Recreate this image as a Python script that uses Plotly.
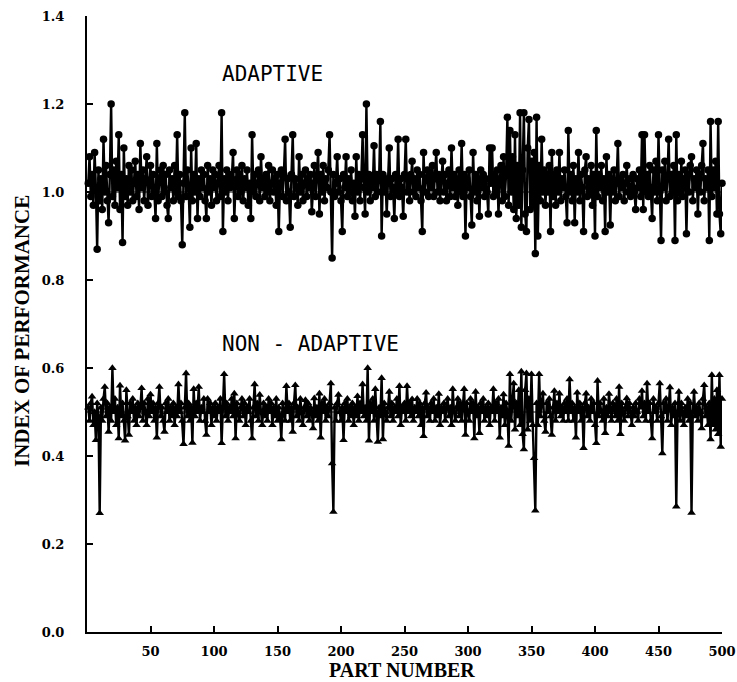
import plotly.graph_objects as go

# Part numbers 1..500
parts = list(range(1, 501))

# Index of performance, adaptive control (10 per row)
adaptive = [
    1.02, 1.08, 0.99, 1.04, 0.97, 1.09, 1.01, 0.87, 1.05, 0.98,
    1.03, 0.96, 1.12, 1.00, 1.06, 0.98, 0.93, 1.04, 1.20, 0.99,
    1.05, 0.97, 1.07, 1.01, 1.13, 0.96, 1.04, 0.885, 1.10, 0.99,
    1.03, 0.97, 1.06, 1.00, 1.05, 0.98, 1.02, 1.07, 0.99, 1.04,
    0.96, 1.11, 1.01, 1.05, 0.98, 1.03, 1.08, 0.97, 1.02, 1.06,
    0.99, 1.04, 1.00, 0.94, 1.11, 0.98, 1.03, 1.05, 0.99, 1.06,
    1.00, 1.04, 0.97, 0.94, 1.05, 1.01, 1.03, 0.98, 1.06, 1.00,
    1.13, 0.99, 1.04, 0.98, 0.88, 1.02, 1.18, 0.99, 1.05, 1.01,
    0.92, 1.10, 0.98, 1.04, 1.00, 1.11, 0.94, 1.03, 0.99, 1.05,
    1.01, 1.04, 0.98, 0.94, 1.06, 1.00, 1.03, 0.97, 1.05, 1.01,
    1.04, 0.98, 1.02, 1.06, 0.99, 1.18, 0.91, 1.03, 1.00, 1.05,
    0.98, 1.04, 1.01, 1.03, 1.09, 0.94, 1.02, 1.05, 0.99, 1.04,
    1.00, 1.06, 0.98, 1.03, 1.01, 1.05, 0.97, 1.02, 0.94, 1.13,
    1.00, 1.04, 0.99, 1.02, 1.05, 0.98, 1.08, 1.01, 1.03, 0.99,
    1.04, 1.00, 1.06, 0.98, 1.02, 1.05, 1.00, 1.03, 0.97, 1.04,
    0.91, 1.02, 1.05, 0.99, 1.04, 1.12, 0.98, 1.03, 1.00, 0.92,
    1.04, 1.13, 0.99, 1.03, 1.01, 0.97, 1.08, 1.00, 1.04, 0.98,
    1.02, 1.05, 0.99, 1.03, 1.01, 1.04, 0.955, 1.02, 1.06, 0.99,
    1.03, 1.09, 0.95, 1.04, 1.00, 1.06, 0.98, 1.03, 1.01, 1.05,
    1.13, 1.00, 0.85, 1.04, 0.99, 1.02, 1.08, 1.00, 1.03, 0.98,
    0.91, 1.04, 1.01, 1.08, 0.99, 1.03, 1.00, 1.05, 0.98, 1.02,
    0.945, 1.08, 1.00, 1.04, 0.98, 1.03, 1.13, 1.01, 0.95, 1.20,
    1.00, 1.04, 0.98, 1.03, 1.01, 1.105, 0.99, 1.04, 1.00, 1.03,
    1.16, 0.90, 1.04, 1.00, 1.03, 0.95, 1.02, 1.10, 0.99, 1.03,
    1.01, 0.94, 1.04, 1.00, 1.12, 0.99, 1.03, 1.01, 0.945, 1.04,
    1.12, 1.00, 1.03, 0.98, 1.04, 1.07, 1.00, 1.03, 0.99, 1.05,
    1.01, 1.04, 0.98, 0.91, 1.09, 1.00, 1.03, 1.05, 0.99, 1.04,
    1.01, 1.06, 0.99, 1.03, 1.09, 1.00, 1.04, 0.98, 1.03, 1.07,
    1.00, 1.04, 0.98, 1.02, 1.05, 0.99, 1.10, 1.01, 1.04, 0.99,
    1.03, 0.97, 1.05, 1.00, 1.11, 0.99, 1.04, 0.90, 1.03, 1.01,
    1.05, 0.99, 0.925, 1.09, 1.00, 1.04, 0.98, 1.03, 0.945, 1.05,
    1.01, 1.04, 0.99, 1.03, 1.00, 0.95, 1.10, 1.02, 1.10, 0.99,
    1.04, 1.00, 1.05, 0.95, 1.03, 1.06, 0.98, 1.08, 0.99, 1.04,
    1.17, 0.97, 1.14, 1.00, 1.08, 0.96, 1.13, 0.94, 1.06, 0.97,
    1.18, 0.92, 1.05, 1.18, 0.95, 0.91, 1.10, 1.165, 0.96, 1.07,
    0.97, 1.09, 0.86, 1.17, 0.90, 1.06, 0.98, 1.12, 1.00, 1.05,
    0.97, 1.04, 1.00, 1.06, 0.91, 1.09, 0.99, 1.04, 0.97, 1.05,
    1.00, 1.09, 0.98, 1.03, 1.01, 1.05, 0.99, 0.93, 1.14, 1.00,
    1.04, 0.98, 1.06, 0.93, 1.03, 1.00, 1.09, 0.98, 1.04, 1.01,
    0.91, 1.05, 1.08, 0.99, 1.03, 1.00, 1.06, 0.97, 1.04, 0.90,
    1.14, 0.99, 1.04, 1.01, 1.06, 0.98, 1.03, 0.91, 1.08, 1.00,
    1.04, 0.925, 1.03, 1.00, 1.05, 0.98, 1.02, 1.11, 0.99, 1.03,
    1.01, 1.04, 0.98, 1.02, 1.06, 1.00, 1.03, 0.99, 1.01, 1.04,
    1.00, 0.96, 1.03, 1.01, 1.05, 0.99, 1.13, 0.96, 1.13, 1.00,
    1.04, 0.99, 1.06, 1.01, 0.94, 1.05, 1.00, 1.07, 0.98, 1.13,
    1.00, 0.89, 1.05, 1.01, 1.07, 0.98, 1.03, 1.12, 0.99, 1.04,
    1.00, 1.06, 0.89, 1.13, 0.98, 1.04, 1.00, 1.07, 0.99, 1.03,
    1.05, 0.905, 1.04, 1.00, 1.06, 1.08, 0.98, 1.03, 1.01, 1.05,
    0.95, 1.04, 1.00, 1.06, 1.11, 0.98, 1.03, 1.01, 1.05, 0.89,
    1.16, 0.99, 1.05, 1.01, 1.07, 0.95, 1.16, 0.95, 0.905, 1.02,
]

# Index of performance, non-adaptive control (10 per row)
non_adaptive = [
    0.51, 0.48, 0.52, 0.535, 0.47, 0.50, 0.436, 0.52, 0.49, 0.27,
    0.51, 0.48, 0.53, 0.557, 0.49, 0.52, 0.455, 0.51, 0.48, 0.60,
    0.50, 0.53, 0.47, 0.51, 0.44, 0.56, 0.49, 0.52, 0.48, 0.435,
    0.55, 0.49, 0.448, 0.52, 0.50, 0.53, 0.48, 0.51, 0.47, 0.52,
    0.49, 0.51, 0.554, 0.48, 0.52, 0.50, 0.47, 0.53, 0.49, 0.54,
    0.50, 0.52, 0.48, 0.51, 0.442, 0.52, 0.557, 0.49, 0.51, 0.48,
    0.455, 0.52, 0.50, 0.53, 0.48, 0.51, 0.49, 0.52, 0.47, 0.51,
    0.49, 0.563, 0.50, 0.52, 0.48, 0.427, 0.51, 0.588, 0.49, 0.52,
    0.48, 0.51, 0.43, 0.552, 0.49, 0.52, 0.50, 0.557, 0.48, 0.51,
    0.50, 0.53, 0.48, 0.448, 0.53, 0.50, 0.52, 0.47, 0.51, 0.49,
    0.52, 0.48, 0.51, 0.50, 0.53, 0.429, 0.51, 0.586, 0.49, 0.52,
    0.48, 0.51, 0.50, 0.53, 0.49, 0.542, 0.44, 0.52, 0.50, 0.48,
    0.51, 0.53, 0.49, 0.52, 0.47, 0.51, 0.50, 0.53, 0.48, 0.44,
    0.51, 0.563, 0.49, 0.52, 0.48, 0.539, 0.50, 0.47, 0.52, 0.49,
    0.51, 0.48, 0.53, 0.50, 0.52, 0.47, 0.51, 0.49, 0.53, 0.48,
    0.51, 0.49, 0.438, 0.52, 0.50, 0.48, 0.559, 0.50, 0.52, 0.48,
    0.51, 0.455, 0.52, 0.561, 0.49, 0.51, 0.48, 0.53, 0.50, 0.47,
    0.51, 0.527, 0.49, 0.52, 0.48, 0.51, 0.50, 0.463, 0.531, 0.49,
    0.51, 0.48, 0.542, 0.442, 0.52, 0.50, 0.53, 0.48, 0.51, 0.49,
    0.52, 0.565, 0.383, 0.273, 0.51, 0.48, 0.52, 0.539, 0.50, 0.48,
    0.51, 0.436, 0.52, 0.50, 0.53, 0.48, 0.51, 0.49, 0.52, 0.47,
    0.51, 0.49, 0.536, 0.48, 0.52, 0.50, 0.563, 0.49, 0.51, 0.48,
    0.60, 0.435, 0.52, 0.50, 0.53, 0.48, 0.552, 0.50, 0.432, 0.51,
    0.49, 0.577, 0.438, 0.52, 0.50, 0.48, 0.51, 0.546, 0.49, 0.52,
    0.48, 0.51, 0.50, 0.53, 0.49, 0.559, 0.47, 0.51, 0.50, 0.52,
    0.48, 0.559, 0.50, 0.52, 0.49, 0.529, 0.48, 0.51, 0.50, 0.53,
    0.49, 0.52, 0.47, 0.51, 0.445, 0.52, 0.544, 0.49, 0.51, 0.48,
    0.52, 0.50, 0.53, 0.48, 0.51, 0.49, 0.541, 0.47, 0.51, 0.50,
    0.52, 0.48, 0.51, 0.53, 0.49, 0.51, 0.47, 0.552, 0.50, 0.48,
    0.51, 0.53, 0.49, 0.52, 0.48, 0.51, 0.552, 0.448, 0.52, 0.50,
    0.48, 0.53, 0.50, 0.52, 0.44, 0.546, 0.49, 0.51, 0.452, 0.52,
    0.50, 0.53, 0.48, 0.51, 0.49, 0.52, 0.47, 0.51, 0.50, 0.552,
    0.48, 0.52, 0.50, 0.53, 0.442, 0.51, 0.49, 0.54, 0.47, 0.52,
    0.50, 0.423, 0.586, 0.48, 0.53, 0.565, 0.46, 0.52, 0.49, 0.55,
    0.47, 0.592, 0.45, 0.415, 0.55, 0.588, 0.46, 0.53, 0.48, 0.586,
    0.47, 0.395, 0.276, 0.52, 0.47, 0.586, 0.49, 0.52, 0.542, 0.48,
    0.455, 0.52, 0.50, 0.53, 0.49, 0.448, 0.51, 0.548, 0.48, 0.52,
    0.50, 0.542, 0.49, 0.51, 0.48, 0.52, 0.50, 0.53, 0.48, 0.574,
    0.50, 0.52, 0.48, 0.51, 0.442, 0.544, 0.50, 0.52, 0.48, 0.51,
    0.418, 0.52, 0.542, 0.49, 0.51, 0.48, 0.53, 0.50, 0.52, 0.47,
    0.429, 0.571, 0.49, 0.52, 0.50, 0.48, 0.53, 0.452, 0.51, 0.49,
    0.541, 0.50, 0.48, 0.52, 0.51, 0.49, 0.53, 0.48, 0.557, 0.45,
    0.52, 0.50, 0.48, 0.51, 0.531, 0.49, 0.52, 0.50, 0.47, 0.51,
    0.49, 0.52, 0.50, 0.48, 0.53, 0.51, 0.548, 0.49, 0.52, 0.48,
    0.565, 0.50, 0.52, 0.48, 0.44, 0.53, 0.50, 0.51, 0.48, 0.52,
    0.565, 0.49, 0.406, 0.52, 0.50, 0.53, 0.48, 0.51, 0.556, 0.47,
    0.51, 0.49, 0.52, 0.285, 0.50, 0.546, 0.48, 0.52, 0.50, 0.47,
    0.51, 0.49, 0.53, 0.48, 0.52, 0.271, 0.50, 0.546, 0.49, 0.51,
    0.48, 0.52, 0.50, 0.463, 0.53, 0.561, 0.49, 0.51, 0.47, 0.52,
    0.438, 0.584, 0.47, 0.53, 0.46, 0.55, 0.45, 0.584, 0.421, 0.53,
]

x_ticks = [50, 100, 150, 200, 250, 300, 350, 400, 450, 500]
x_tick_labels = ["50", "100", "150", "200", "250", "300", "350", "400", "450", "500"]
y_ticks = [0.0, 0.2, 0.4, 0.6, 0.8, 1.0, 1.2, 1.4]
y_tick_labels = ["0.0", "0.2", "0.4", "0.6", "0.8", "1.0", "1.2", "1.4"]
reference_levels = [1.0, 0.5]

fig = go.Figure()

for lvl in reference_levels:
    fig.add_trace(go.Scatter(
        x=[0, 500], y=[lvl, lvl], mode="lines",
        line=dict(color="black", width=1.2), hoverinfo="skip", showlegend=False,
    ))

fig.add_trace(go.Scatter(
    x=parts, y=adaptive, mode="lines+markers", name="ADAPTIVE",
    line=dict(color="black", width=2.4),
    marker=dict(symbol="circle", size=7.5, color="black"),
    cliponaxis=False, showlegend=False,
))
fig.add_trace(go.Scatter(
    x=parts, y=non_adaptive, mode="lines+markers", name="NON - ADAPTIVE",
    line=dict(color="black", width=2.4),
    marker=dict(symbol="triangle-up", size=7.5, color="black"),
    cliponaxis=False, showlegend=False,
))

tick_font = dict(family="DejaVu Serif", size=13, color="black", weight="bold")
title_font = dict(family="Liberation Serif", size=20, color="black", weight="bold")
label_font = dict(family="DejaVu Sans Mono", size=21, color="black")

fig.update_layout(
    width=737, height=682,
    margin=dict(l=87, r=15, t=16, b=50, autoexpand=False),
    paper_bgcolor="white", plot_bgcolor="white",
    xaxis=dict(
        range=[0, 500], showgrid=False, zeroline=False, automargin=False,
        showline=True, linecolor="black", linewidth=2,
        ticks="inside", ticklen=6, tickwidth=2, tickcolor="black",
        tickvals=x_ticks, ticktext=x_tick_labels, tickfont=tick_font,
        ticklabelstandoff=6,
    ),
    yaxis=dict(
        range=[0, 1.4], showgrid=False, zeroline=False, automargin=False,
        showline=True, linecolor="black", linewidth=2,
        ticks="inside", ticklen=6, tickwidth=2, tickcolor="black",
        tickvals=y_ticks, ticktext=y_tick_labels, tickfont=tick_font,
        ticklabelstandoff=18,
    ),
    annotations=[
        dict(text="ADAPTIVE", x=104.7, y=1.268, xref="x", yref="y",
             xanchor="left", yanchor="middle", showarrow=False, font=label_font),
        dict(text="NON - ADAPTIVE", x=104.7, y=0.655, xref="x", yref="y",
             xanchor="left", yanchor="middle", showarrow=False, font=label_font),
        dict(text="INDEX OF PERFORMANCE", x=-0.1024, y=0.4886, xref="paper", yref="paper",
             textangle=-90, xanchor="center", yanchor="middle", showarrow=False,
             font=dict(family="Liberation Serif", size=21, color="black", weight="bold")),
        dict(text="PART NUMBER", x=0.496, y=-0.0610, xref="paper", yref="paper",
             xanchor="center", yanchor="middle", showarrow=False, font=title_font),
    ],
)

fig.write_html(
    "out.html",
    config={"displayModeBar": False},
    post_script="document.body.style.margin='0';document.body.style.overflow='hidden';",
)
